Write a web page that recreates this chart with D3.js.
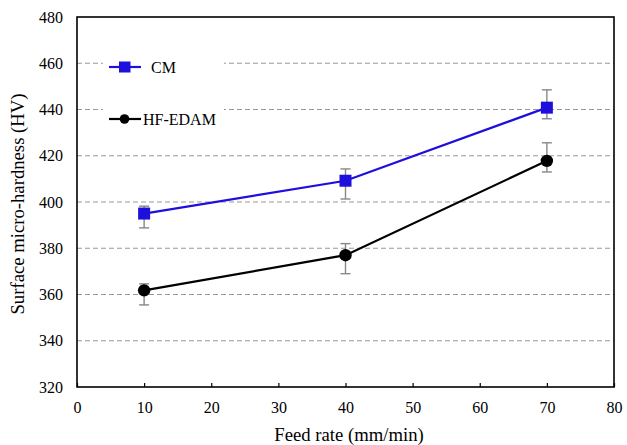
<!DOCTYPE html>
<html>
<head>
<meta charset="utf-8">
<script src="https://cdn.jsdelivr.net/npm/d3@7"></script>
<style>
  html, body { margin: 0; padding: 0; background: #fff; }
</style>
</head>
<body>
<svg id="chart" width="627" height="445"></svg>
<script>
// Feed rate (mm/min)
const feedRates = [10, 40, 70];

// Surface micro-hardness (HV) with error bar bounds
const cmValues = [395.0, 409.2, 440.8];
const cmLow    = [388.8, 401.3, 436.0];
const cmHigh   = [398.2, 414.3, 448.5];

const hfValues = [361.8, 377.0, 417.8];
const hfLow    = [355.5, 369.0, 413.0];
const hfHigh   = [364.6, 382.0, 425.6];

const xTicks = [0, 10, 20, 30, 40, 50, 60, 70, 80];
const yTicks = [320, 340, 360, 380, 400, 420, 440, 460, 480];
const gridTicks = [340, 360, 380, 400, 420, 440, 460];

const seriesNames = ["CM", "HF-EDAM"];

const FONT = "'Liberation Serif', 'Times New Roman', Times, serif";

const svg = d3.select("#chart").attr("font-family", FONT);
const plotLeft = 77, plotRight = 614, plotTop = 17, plotBottom = 387;

const x = d3.scaleLinear().domain([0, 80]).range([plotLeft, plotRight]);
const y = d3.scaleLinear().domain([320, 480]).range([plotBottom, plotTop]);

// horizontal dashed grid
svg.append("g").selectAll("line").data(gridTicks).join("line")
  .attr("x1", plotLeft).attr("x2", plotRight)
  .attr("y1", d => y(d)).attr("y2", d => y(d))
  .attr("stroke", "#999").attr("stroke-width", 1.2)
  .attr("stroke-dasharray", "5,3");

// legend background blanks the grid behind it
svg.append("rect").attr("x", 103).attr("y", 48).attr("width", 121).attr("height", 84)
  .attr("fill", "#fff");

// axes
const xAxis = d3.axisBottom(x).tickValues(xTicks).tickSize(-4).tickPadding(15).tickFormat(d3.format("d"));
const gx = svg.append("g").attr("transform", `translate(0,${plotBottom})`).call(xAxis)
  .attr("font-family", FONT).attr("font-size", 16);
gx.select(".domain").remove();
gx.selectAll(".tick line").attr("stroke", "#000").attr("stroke-width", 1.2);
gx.selectAll("text").attr("fill", "#000");

const yAxis = d3.axisLeft(y).tickValues(yTicks).tickSize(0).tickPadding(14).tickFormat(d3.format("d"));
const gy = svg.append("g").attr("transform", `translate(${plotLeft},0)`).call(yAxis)
  .attr("font-family", FONT).attr("font-size", 16);
gy.select(".domain").remove();
gy.selectAll("text").attr("fill", "#000");

// plot frame
svg.append("rect").attr("x", plotLeft).attr("y", plotTop)
  .attr("width", plotRight - plotLeft).attr("height", plotBottom - plotTop)
  .attr("fill", "none").attr("stroke", "#000").attr("stroke-width", 1.6);

// axis titles
svg.append("text").attr("x", 349).attr("y", 441)
  .attr("text-anchor", "middle").attr("font-size", 18.7).text("Feed rate (mm/min)");
svg.append("text").attr("transform", `translate(24,204) rotate(-90)`)
  .attr("text-anchor", "middle").attr("font-size", 18.7).text("Surface micro-hardness (HV)");

const series = [
  { name: seriesNames[0], vals: cmValues, lo: cmLow, hi: cmHigh, color: "#1f0fdc", shape: "square" },
  { name: seriesNames[1], vals: hfValues, lo: hfLow, hi: hfHigh, color: "#000", shape: "circle" }
];

const line = d3.line().x(d => x(d[0])).y(d => y(d[1]));

series.forEach(s => {
  const g = svg.append("g");
  const pts = feedRates.map((f, i) => [f, s.vals[i], s.lo[i], s.hi[i]]);
  // error bars
  const eb = g.append("g").attr("stroke", "#888").attr("stroke-width", 1.4);
  eb.selectAll("line.v").data(pts).join("line").attr("class", "v")
    .attr("x1", d => x(d[0])).attr("x2", d => x(d[0]))
    .attr("y1", d => y(d[2])).attr("y2", d => y(d[3]));
  eb.selectAll("line.t").data(pts).join("line").attr("class", "t")
    .attr("x1", d => x(d[0]) - 5).attr("x2", d => x(d[0]) + 5)
    .attr("y1", d => y(d[3])).attr("y2", d => y(d[3]));
  eb.selectAll("line.b").data(pts).join("line").attr("class", "b")
    .attr("x1", d => x(d[0]) - 5).attr("x2", d => x(d[0]) + 5)
    .attr("y1", d => y(d[2])).attr("y2", d => y(d[2]));
  // connecting line
  g.append("path").datum(pts).attr("d", line)
    .attr("fill", "none").attr("stroke", s.color).attr("stroke-width", 2.2);
  // markers
  if (s.shape === "square") {
    g.selectAll("rect").data(pts).join("rect")
      .attr("x", d => x(d[0]) - 6).attr("y", d => y(d[1]) - 6)
      .attr("width", 12).attr("height", 12).attr("fill", s.color);
  } else {
    g.selectAll("circle").data(pts).join("circle")
      .attr("cx", d => x(d[0])).attr("cy", d => y(d[1])).attr("r", 6.2)
      .attr("fill", s.color);
  }
});

// legend
const legendRows = [
  { s: series[0], yy: 67, tx: 151 },
  { s: series[1], yy: 119, tx: 143 }
];
legendRows.forEach(r => {
  svg.append("line").attr("x1", 109).attr("x2", 141).attr("y1", r.yy).attr("y2", r.yy)
    .attr("stroke", r.s.color).attr("stroke-width", 2.2);
  if (r.s.shape === "square") {
    svg.append("rect").attr("x", 119).attr("y", r.yy - 5.5).attr("width", 11.5).attr("height", 11)
      .attr("fill", r.s.color);
  } else {
    svg.append("circle").attr("cx", 124.5).attr("cy", r.yy).attr("r", 4.8).attr("fill", r.s.color);
  }
  svg.append("text").attr("x", r.tx).attr("y", r.yy + 5.5).attr("font-size", 16).text(r.s.name);
});
</script>
</body>
</html>
